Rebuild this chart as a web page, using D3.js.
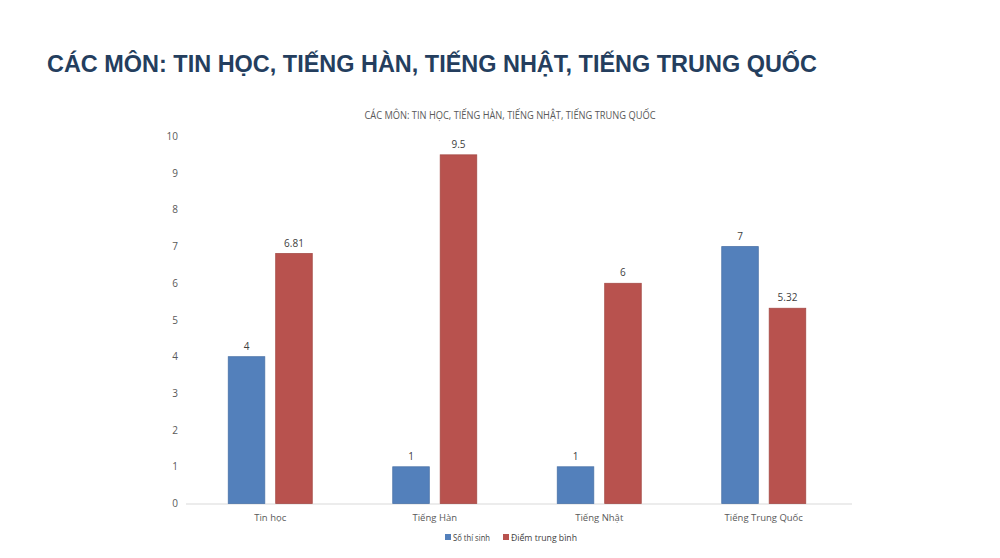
<!DOCTYPE html>
<html>
<head>
<meta charset="utf-8">
<script src="https://cdn.jsdelivr.net/npm/d3@7"></script>
<style>
  html, body { margin: 0; padding: 0; background: #fff; }
  svg { display: block; }
</style>
</head>
<body>
<div id="chart"></div>
<script>
(function () {
  'use strict';

  /* ── Data ── */
  var categories = ['Tin học', 'Tiếng Hàn', 'Tiếng Nhật', 'Tiếng Trung Quốc'];
  var soThiSinh = [4, 1, 1, 7];
  var diemTrungBinh = [6.81, 9.5, 6, 5.32];
  var seriesNames = ['Số thí sinh', 'Điểm trung bình'];
  var yTicks = [0, 1, 2, 3, 4, 5, 6, 7, 8, 9, 10];

  var W = 1000, H = 558;
  var colors = ['#5380BB', '#B8524E'];
  var font = '"Open Sans", "Noto Sans", sans-serif';

  var svg = d3.select('#chart').append('svg')
    .attr('width', W).attr('height', H);

  /* ── Page title ── */
  svg.append('text')
    .attr('x', 47).attr('y', 72)
    .attr('font-family', '"Liberation Sans", Arial, sans-serif')
    .attr('font-weight', 'bold')
    .attr('font-size', 23)
    .attr('fill', '#243E5E')
    .attr('textLength', 770)
    .attr('lengthAdjust', 'spacingAndGlyphs')
    .text('CÁC MÔN: TIN HỌC, TIẾNG HÀN, TIẾNG NHẬT, TIẾNG TRUNG QUỐC');

  /* ── Chart title ── */
  svg.append('text')
    .attr('x', 510).attr('y', 119)
    .attr('text-anchor', 'middle')
    .attr('font-family', font)
    .attr('font-size', 10)
    .attr('fill', '#595959')
    .attr('textLength', 291)
    .attr('lengthAdjust', 'spacingAndGlyphs')
    .text('CÁC MÔN: TIN HỌC, TIẾNG HÀN, TIẾNG NHẬT, TIẾNG TRUNG QUỐC');

  /* ── Scales ── */
  var x0 = d3.scaleBand()
    .domain(categories)
    .range([188, 846]);

  var x1 = d3.scaleBand()
    .domain(seriesNames)
    .range([x0.bandwidth() / 2 - 42, x0.bandwidth() / 2 + 42])
    .paddingInner(0.23);

  var y = d3.scaleLinear()
    .domain([0, 10])
    .range([503.5, 136.5]);

  /* ── Y axis labels (no line, no gridlines) ── */
  svg.append('g')
    .selectAll('text')
    .data(yTicks)
    .join('text')
    .attr('x', 178)
    .attr('y', function (d) { return y(d); })
    .attr('dy', '0.35em')
    .attr('text-anchor', 'end')
    .attr('font-family', font)
    .attr('font-size', 10)
    .attr('fill', '#595959')
    .text(function (d) { return d; });

  /* ── Baseline ── */
  svg.append('line')
    .attr('x1', 186).attr('x2', 852)
    .attr('y1', y(0) + 0.5).attr('y2', y(0) + 0.5)
    .attr('stroke', '#d9d9d9')
    .attr('stroke-width', 1.2);

  /* ── Bars ── */
  var rows = categories.map(function (c, i) {
    return { cat: c, vals: [soThiSinh[i], diemTrungBinh[i]] };
  });

  var groups = svg.append('g')
    .selectAll('g')
    .data(rows)
    .join('g')
    .attr('transform', function (d) { return 'translate(' + x0(d.cat) + ',0)'; });

  groups.selectAll('rect')
    .data(function (d) { return d.vals.map(function (v, j) { return { s: seriesNames[j], v: v, j: j }; }); })
    .join('rect')
    .attr('x', function (d) { return x1(d.s); })
    .attr('width', x1.bandwidth())
    .attr('y', function (d) { return y(d.v); })
    .attr('height', function (d) { return y(0) - y(d.v); })
    .attr('fill', function (d) { return colors[d.j]; })
    .attr('stroke', function (d) { return d3.color(colors[d.j]).darker(0.3); })
    .attr('stroke-width', 0.8);

  groups.selectAll('text')
    .data(function (d) { return d.vals.map(function (v, j) { return { s: seriesNames[j], v: v }; }); })
    .join('text')
    .attr('x', function (d) { return x1(d.s) + x1.bandwidth() / 2; })
    .attr('y', function (d) { return y(d.v) - 7; })
    .attr('text-anchor', 'middle')
    .attr('font-family', font)
    .attr('font-size', 10)
    .attr('fill', '#404040')
    .text(function (d) { return d.v; });

  /* ── Category labels ── */
  svg.append('g')
    .selectAll('text')
    .data(categories)
    .join('text')
    .attr('x', function (d) { return x0(d) + x0.bandwidth() / 2; })
    .attr('y', 521)
    .attr('text-anchor', 'middle')
    .attr('font-family', font)
    .attr('font-size', 9.5)
    .attr('fill', '#595959')
    .text(function (d) { return d; });

  /* ── Legend ── */
  var legend = svg.append('g').attr('transform', 'translate(445,538)');
  var lx = [0, 58];
  var lw = [37, 66];
  seriesNames.forEach(function (name, i) {
    var g = legend.append('g').attr('transform', 'translate(' + lx[i] + ',0)');
    g.append('rect')
      .attr('x', 0).attr('y', -4)
      .attr('width', 6).attr('height', 6)
      .attr('fill', colors[i]);
    g.append('text')
      .attr('x', 8).attr('y', 0)
      .attr('dy', '0.3em')
      .attr('font-family', font)
      .attr('font-size', 9.5)
      .attr('fill', '#404040')
      .attr('textLength', lw[i])
      .attr('lengthAdjust', 'spacingAndGlyphs')
      .text(name);
  });
})();
</script>
</body>
</html>
